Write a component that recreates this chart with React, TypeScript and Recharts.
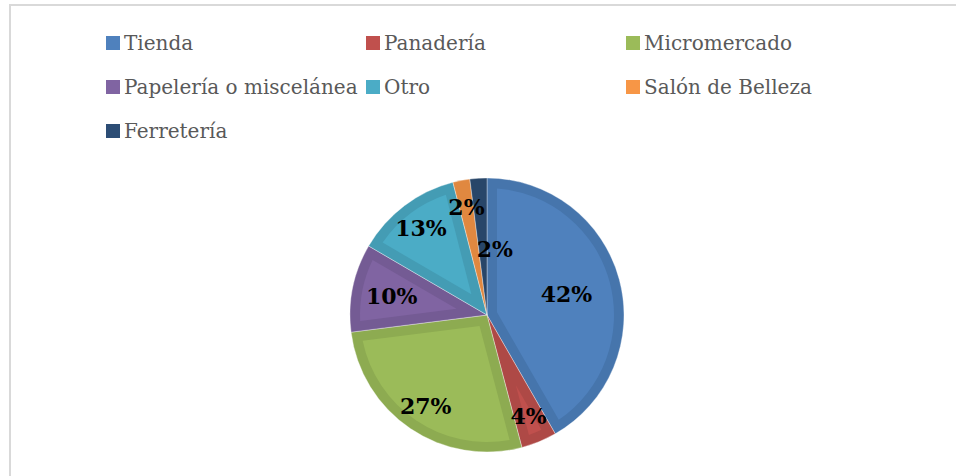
import { Cell, Legend, Pie, PieChart } from "recharts";

const categories = [
  "Tienda",
  "Panadería",
  "Micromercado",
  "Papelería o miscelánea",
  "Otro",
  "Salón de Belleza",
  "Ferretería",
];
const shares = [41.7, 4.2, 27.1, 10.4, 12.6, 2.0, 2.0];
const fills = ["#4F81BD", "#C0504D", "#9BBB59", "#8064A2", "#4BACC6", "#F79646", "#2C4D75"];
const bands = ["#4675AC", "#AE4946", "#8DAB51", "#745B94", "#449CB4", "#E08840", "#284669"];

const data = categories.map((name, i) => ({ name, value: shares[i] }));

// label placement as fraction of the radius (Excel "best fit" look)
const labelSpot: Record<string, { r: number; dx?: number }> = {
  Tienda: { r: 0.6 },
  "Papelería o miscelánea": { r: 0.71 },
  Ferretería: { r: 0.48, dx: 12 },
};

const RAD = Math.PI / 180;
const BEVEL = 10;

const pt = (cx: number, cy: number, a: number, r: number) =>
  `${cx + r * Math.cos(a * RAD)},${cy - r * Math.sin(a * RAD)}`;

const BevelSector = (props: any) => {
  const { cx, cy, outerRadius, startAngle, endAngle, index, name } = props;
  const idx = categories.indexOf(name ?? props.payload?.name);
  const k = idx >= 0 ? idx : index;
  const hi = Math.max(startAngle, endAngle);
  const lo = Math.min(startAngle, endAngle);
  const span = hi - lo;
  const large = span > 180 ? 1 : 0;
  const r = outerRadius;
  const outer = `M${cx},${cy} L${pt(cx, cy, hi, r)} A${r},${r} 0 ${large} 1 ${pt(cx, cy, lo, r)} Z`;

  let inner: string | null = null;
  const r2 = r - BEVEL;
  const apexDist = BEVEL / Math.sin((span / 2) * RAD);
  if (span < 180 && apexDist < r2 - 3) {
    const d = Math.asin(BEVEL / r2) / RAD;
    const mid = (hi + lo) / 2;
    inner = `M${pt(cx, cy, mid, apexDist)} L${pt(cx, cy, hi - d, r2)} A${r2},${r2} 0 ${
      span - 2 * d > 180 ? 1 : 0
    } 1 ${pt(cx, cy, lo + d, r2)} Z`;
  }

  return (
    <g>
      <path d={outer} fill={bands[k]} stroke="#ffffff" strokeOpacity={0.35} strokeWidth={1} />
      {inner && <path d={inner} fill={fills[k]} />}
    </g>
  );
};

const renderLabel = (props: any) => {
  const { cx, cy, midAngle, outerRadius, percent, name } = props;
  const spot = labelSpot[name] || { r: 0.8 };
  const rr = outerRadius * spot.r;
  const x = cx + rr * Math.cos(-midAngle * RAD) + (spot.dx || 0);
  const y = cy + rr * Math.sin(-midAngle * RAD);
  return (
    <text
      x={x}
      y={y}
      textAnchor="middle"
      dominantBaseline="central"
      fill="#000000"
      fontFamily="'DejaVu Serif', serif"
      fontWeight="bold"
      fontSize={22}
    >
      {`${Math.round(percent * 100)}%`}
    </text>
  );
};

const LegendGrid = (props: any) => {
  const payload = [...(props.payload || [])].sort(
    (a: any, b: any) => categories.indexOf(a.value) - categories.indexOf(b.value)
  );
  return (
    <div style={{ position: "relative", width: 956, height: 0, overflow: "visible" }}>
      {payload.map((entry: any, i: number) => {
        const col = i % 3;
        const row = Math.floor(i / 3);
        const idx = categories.indexOf(entry.value);
        return (
          <div
            key={entry.value}
            style={{
              position: "absolute",
              left: 106 + col * 260,
              top: 36 + row * 44,
              height: 14,
              display: "flex",
              alignItems: "center",
              whiteSpace: "nowrap",
            }}
          >
            <span
              style={{
                width: 14,
                height: 14,
                background: fills[idx >= 0 ? idx : i],
                marginRight: 4,
                display: "inline-block",
              }}
            />
            <span
              style={{
                fontFamily: "'DejaVu Serif', serif",
                fontSize: 20,
                lineHeight: "14px",
                color: "#595959",
              }}
            >
              {entry.value}
            </span>
          </div>
        );
      })}
    </div>
  );
};

export default function App() {
  return (
    <div
      style={{
        position: "absolute",
        left: 0,
        top: 0,
        width: 956,
        height: 476,
        background: "#ffffff",
        overflow: "hidden",
      }}
    >
      <div
        style={{
          position: "absolute",
          left: 9,
          top: 4,
          width: 1100,
          height: 600,
          borderLeft: "2px solid #d9d9d9",
          borderTop: "2px solid #d9d9d9",
        }}
      />
      <PieChart
        width={956}
        height={476}
        margin={{ top: 0, right: 0, bottom: 0, left: 0 }}
        style={{ position: "absolute", left: 0, top: 0 }}
      >
        <Legend
          verticalAlign="top"
          align="left"
          content={LegendGrid}
          wrapperStyle={{ position: "absolute", left: 0, top: 0, width: 956, height: 0 }}
        />
        <Pie
          data={data}
          dataKey="value"
          nameKey="name"
          cx={487}
          cy={315}
          outerRadius={137}
          startAngle={90}
          endAngle={-270}
          label={renderLabel}
          labelLine={false}
          shape={BevelSector}
          inactiveShape={BevelSector}
          activeShape={BevelSector}
          isAnimationActive={false}
        >
          {data.map((d, i) => (
            <Cell key={d.name} fill={fills[i]} />
          ))}
        </Pie>
      </PieChart>
    </div>
  );
}
